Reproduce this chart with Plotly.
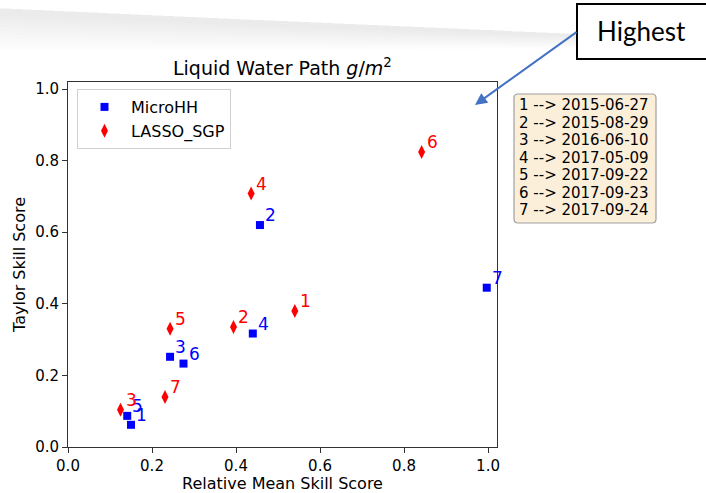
import plotly.graph_objects as go

# Skill scores per case (case number -> date in the side box)
cases = ["1", "2", "3", "4", "5", "6", "7"]
dates = ["2015-06-27", "2015-08-29", "2016-06-10", "2017-05-09",
         "2017-09-22", "2017-09-23", "2017-09-24"]

microhh_rel_mean = [0.150, 0.457, 0.243, 0.440, 0.141, 0.275, 0.997]
microhh_taylor = [0.062, 0.620, 0.252, 0.317, 0.087, 0.233, 0.445]

lasso_rel_mean = [0.540, 0.394, 0.125, 0.436, 0.243, 0.842, 0.231]
lasso_taylor = [0.380, 0.335, 0.104, 0.708, 0.330, 0.824, 0.140]

W, H = 706, 493
L, R, T, B = 68, 497, 82, 447


def px(x):
    return (x - L) / (R - L)


def py(y):
    return (B - y) / (B - T)


fig = go.Figure()

fig.add_trace(go.Scatter(
    x=microhh_rel_mean, y=microhh_taylor, mode="markers", name="MicroHH",
    marker=dict(symbol="square", size=8, color="#0000ff"),
    cliponaxis=False,
))
fig.add_trace(go.Scatter(
    x=lasso_rel_mean, y=lasso_taylor, mode="markers", name="LASSO_SGP",
    marker=dict(symbol="diamond-tall", size=10, color="#ff0000"),
    cliponaxis=False,
))

annotations = []
for xs, ys, col in [(microhh_rel_mean, microhh_taylor, "#0000ff"),
                    (lasso_rel_mean, lasso_taylor, "#ff0000")]:
    for c, x, y in zip(cases, xs, ys):
        annotations.append(dict(
            x=x, y=y, xref="x", yref="y", text=c, showarrow=False,
            xanchor="left", yanchor="bottom", xshift=3, yshift=-2,
            font=dict(family="DejaVu Sans", size=17, color=col),
        ))

# Title
annotations.append(dict(
    x=0.5, y=py(67), xref="paper", yref="paper", showarrow=False,
    text="Liquid Water Path <i>g</i>/<i>m</i><sup>2</sup>",
    xanchor="center", yanchor="middle",
    font=dict(family="DejaVu Sans", size=19, color="#000000"),
))

shapes = []

# Soft gray band across the top (stacked translucent layers for a fade)
top_l, top_m, top_r = 8, 22, 34
n_layers = 10
for k in range(n_layers):
    f = k / (n_layers - 1)
    bot_l = 50 - f * 34
    bot_r = 48 - f * 11
    shapes.append(dict(
        type="path", xref="paper", yref="paper", layer="below",
        path=(f"M {px(0)},{py(top_l)} Q {px(300)},{py(top_m)} {px(585)},{py(top_r)} "
              f"L {px(585)},{py(bot_r)} Q {px(300)},{py((bot_l + bot_r) / 2 + 2)} "
              f"{px(0)},{py(bot_l)} Z"),
        fillcolor="rgba(0,0,0,0.009)", line=dict(width=0),
    ))

# Case/date key: rounded box with one line per case
kx0, kx1, ky0, ky1, r = 514, 656, 94, 223, 4
shapes.append(dict(
    type="path", xref="paper", yref="paper",
    path=(f"M {px(kx0 + r)},{py(ky0)} L {px(kx1 - r)},{py(ky0)} "
          f"Q {px(kx1)},{py(ky0)} {px(kx1)},{py(ky0 + r)} "
          f"L {px(kx1)},{py(ky1 - r)} Q {px(kx1)},{py(ky1)} {px(kx1 - r)},{py(ky1)} "
          f"L {px(kx0 + r)},{py(ky1)} Q {px(kx0)},{py(ky1)} {px(kx0)},{py(ky1 - r)} "
          f"L {px(kx0)},{py(ky0 + r)} Q {px(kx0)},{py(ky0)} {px(kx0 + r)},{py(ky0)} Z"),
    fillcolor="#fbefda", line=dict(color="#a0a0a0", width=1.2),
))
for i, (c, d) in enumerate(zip(cases, dates)):
    annotations.append(dict(
        x=px(517), y=py(105.3 + i * 17.5), xref="paper", yref="paper",
        showarrow=False, text=f"{c} --> {d}", xanchor="left", yanchor="middle",
        font=dict(family="DejaVu Sans", size=15, color="#000000"),
    ))

# "Highest" callout with arrow
shapes.append(dict(
    type="rect", xref="paper", yref="paper",
    x0=px(577), x1=px(707), y0=py(59), y1=py(4),
    fillcolor="#ffffff", line=dict(color="#000000", width=2),
))
annotations.append(dict(
    x=px(641), y=py(31), xref="paper", yref="paper", showarrow=False,
    text="Highest", xanchor="center", yanchor="middle",
    font=dict(family="Lato", size=26, color="#000000"),
))
annotations.append(dict(
    x=px(475), y=py(105), xref="paper", yref="paper", showarrow=True,
    ax=103, ay=-74, axref="pixel", ayref="pixel", text="",
    arrowhead=2, arrowsize=1.2, arrowwidth=2, arrowcolor="#4472c4",
))

fig.update_layout(
    width=W, height=H,
    margin=dict(l=L, r=W - R, t=T, b=H - B, pad=0),
    paper_bgcolor="#ffffff", plot_bgcolor="#ffffff",
    font=dict(family="DejaVu Sans", size=15, color="#000000"),
    showlegend=True,
    legend=dict(
        x=px(77), y=py(89), xanchor="left", yanchor="top",
        bgcolor="rgba(255,255,255,0.8)", bordercolor="#d0d0d0", borderwidth=1,
        font=dict(family="DejaVu Sans", size=16, color="#000000"),
        itemwidth=43, tracegroupgap=0,
    ),
    annotations=annotations,
    shapes=shapes,
)

axis_common = dict(
    showgrid=False, zeroline=False, showline=True, linecolor="#333333",
    linewidth=1, mirror=True, ticks="outside", ticklen=5, tickwidth=1,
    tickcolor="#333333", tickformat=".1f", dtick=0.2, tick0=0,
    tickfont=dict(family="DejaVu Sans", size=15, color="#000000"),
    automargin=False,
)
fig.update_xaxes(range=[0, 1.0214], title=dict(
    text="Relative Mean Skill Score", standoff=4,
    font=dict(family="DejaVu Sans", size=16)), **axis_common)
fig.update_yaxes(range=[0, 1.0196], title=dict(
    text="Taylor Skill Score", standoff=5,
    font=dict(family="DejaVu Sans", size=16)), **axis_common)

fig.write_html("out.html")
